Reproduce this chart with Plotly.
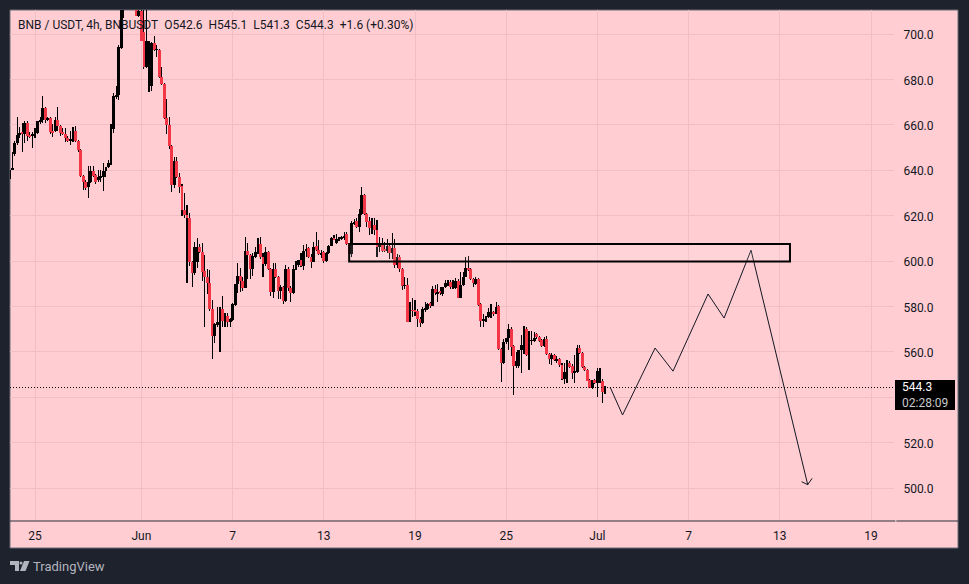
import pandas as pd
import plotly.graph_objects as go

# BNB/USDT 4h candles, oldest first; the last one closes at 544.3
opens = [636,640,647,652,655.5,657,656,661,655.5,655,656,656.5,661.5,662,667.5,662,663,657.2,657.5,662,659.5,656.5,656,654,653.3,653.5,657.5,653,649,637.6,635,632.5,635,639.5,638,635.5,637,637,639.5,641.5,643,658,672.5,673,694,712,
         716,720,717,721,715,708,710,701,685.5,677,677,696,693,693,681,678,663,660,650.5,633.5,644,637,
         633,622.5,620.5,618.8,599.7,594.6,599.5,606,604,595.5,593,590.2,578.7,567,572,573,578.7,573.6,575.7,573.3,574,580.6,589.9,593.4,591.3,588.2,604.4,602.6,596.3,602,603.8,607.5,601.6,598.7,604,596.7,586.5,596.7,593,587,588.4,582.5,596.7,588.2,586,596.5,598.2,600.4,598,604.4,605.9,601.9,599.7,606.5,605,603,604,600,603.4,606.7,610.3,608,609.7,610,610.2,612,607.5,602.9,616.6,617.7,
         615,620.6,629.1,620.6,617.6,614.9,615.8,613.9,606.3,607.5,604.9,604.6,606.6,603.7,605.6,598.2,601.9,596.3,589.1,589.4,573.3,578.4,578.2,578.2,574.7,572.8,578.7,579,581.4,580.3,587.5,585.8,587,585.3,588.4,590.2,590.9,588,588,591.4,583.9,589.4,593,596.8,596.3,591.9,590,592,581,573.7,574.7,575.5,577.5,577.7,576.7,580,
         561.2,555.2,564.4,566,570.3,562.5,554,554,560.8,560,570.3,558.6,565,565,567.8,566.4,565.1,562.7,565.6,558.9,556.8,558.6,556.4,557,554.4,548,550.5,554.9,553.7,550.9,551.2,561.5,559.3,553.4,552.2,547.5,544.2,547.5,546.4,547,547.3,542.6]
highs = [640,648,653,663.5,659,661,661.5,661.5,657,657,658.5,661.5,663.5,672.5,668,663.5,663.5,660.5,663.5,668,660,658.5,658.5,655,657.5,659,659.5,653.5,649.5,638,635.5,642,642,642,638.5,640,640,643,641.5,644.5,660.5,674,677,695,720,722,
         725,728,724,726,718,712,712,711,712,697,696.5,699,695,693.5,685.5,678.5,671.5,663.5,651,646,646,639,
         634,629.8,624.7,621,600,608.5,610,607.5,608,602.6,596.3,596,582.8,572.8,579.6,579.6,584.6,577,577,575,581.6,590,599,596.8,593,610.4,608,603,603.6,606.3,610,610.4,603.7,606.3,604.5,597,599,599,593.5,589.4,589,598.2,597.2,589,598.2,600,600.4,603.5,607.3,607.5,606.3,603,608.5,613,609.5,605,604.5,604,607,610.7,611.5,612,610.5,611,612.6,612.6,608,617.8,618.5,618.8,
         622.9,632.5,629.5,621,619.5,618.8,619,618,610.7,610,608.5,609.6,607,612.2,609.6,603,602.5,597,592.8,592.4,582,583.6,582.8,579,575.5,579.6,582,581.7,582,589,589.4,590,588.5,588.4,591.6,591.6,591.5,591.6,592.4,592,595.3,595.3,602,602.2,596.8,592.5,593,592.5,581.5,576.7,576,579.2,581.3,578.2,582,580.5,
         561.5,565.5,566,572.5,571,563,560,560.8,567.4,571.2,571,569.3,569,568.8,568.5,567,565.5,566.6,567,559.5,559.3,559,558,557.5,555,554.9,556.5,556,554.5,558.6,563,563,559.8,554,552.5,548,547.8,548,553.1,553,548,545.1]
lows = [635.5,640,646.5,651,654,648,652,653,654,650,654,656,660.5,661,661,661.5,656,654.5,657,657.5,655,655.5,652.5,652.5,651,652.5,652.5,648,637,631.5,631.5,628,634.5,637,634,635,635,631,637,641,642.5,656.5,671.5,671,693.5,707,
        711.5,713,712,714,708,707.5,697,684.5,685,674.5,675,692.5,690,680.5,677.5,662.5,656,649.5,630.5,632,636.5,630,
        620,618.8,590.4,598,588.4,593.8,597,603.5,591.3,570.8,585.7,578,556.7,563.7,570.8,560,571,571,571,571,573.7,580.3,586,586.5,587,588,592,592,593.5,601.5,603,601,593,598,596,584.6,583.8,592.5,583.5,583.5,581,582,587,582,585.5,596,597.5,597.5,596,602,601.5,596.8,599.5,604.5,602.5,601.5,599,599.7,603,606.5,609.5,607.5,609,609.5,609.5,607,602,602,616,614.5,
        613,620.5,620.3,615,611.5,612,611.5,601.6,604,604,604,603.4,601,600.7,597,597,595.3,587.2,587.8,573,573,575.5,576,571,570.8,572.5,577.5,578.5,579.5,580,585,582,585,584.4,588,589,587.5,587.5,587.5,583.9,583.7,589,593,595.5,591.5,588.5,589.5,580,571,571,573,575,575,576,576.5,561,
        546.8,554.5,563.5,560.8,558,541,553,553,550.8,559,558,552,563,564.5,565.5,564.5,562,562,558.5,554.6,554.2,556,555,553.5,547.5,546,546.5,553,548,546.5,550.5,559,553,551.5,547,544,543.5,546,540.2,546.5,537.6,541.3]
closes = [640,641,652,655.5,656.5,656,661,655,655,656,656.5,661.5,662,667.5,662,663,657,656.8,662,659.5,656.5,656,654,653.3,653.8,657.5,653,649,637.6,635,632,635,639.5,637.5,635,637,637.4,639.5,641.5,643,660.5,672.5,673,694.5,712,716,
          720,717,721,718,708,710,697,685.5,697,696,696,693,693.3,681,678,663,660,650.5,633.5,644,637,632.5,
          622.5,620.2,618.8,599.7,594.8,606,606,604,595.3,593,590.2,578.7,567,572.2,573,578.7,573.6,575.7,573.3,574.4,581,589.9,593.4,591.3,588.2,604.4,602.6,596.3,602.2,603.8,607.5,601.6,598.7,604,596.7,586.5,596.7,593,587,588.4,582.5,596.7,588.2,586,596.5,598.2,600.4,598,604.4,605.5,601.9,599.7,606.3,605.1,603,603.5,600,603.4,606.7,610.3,609.5,609.7,610,610.2,610.7,607.5,602.9,616.6,617.2,615,
          620.6,629.1,620.6,617.3,614.7,615.5,613.7,606.3,607.5,604.6,604.6,606.6,603.7,605.6,598.2,601.9,596.3,589.1,589.4,573.3,579.9,578.1,578,574.5,572.8,578.7,579.2,581,580.4,587.5,585.8,586.5,585.8,588.4,590.2,590.9,588.4,588.6,591.4,583.9,589.4,593,596.8,596.1,591.9,590.2,592,580.6,573.7,574.7,575.5,577.7,577.8,576.7,579.9,561.2,
          555.2,564.4,565.9,570.3,562.2,553.9,556,560.8,563,570.3,558.6,565.2,565.2,566,566.4,565,562.7,565.5,558.9,556.8,558.6,556.4,557,554.2,548,551,551.5,553.4,550.9,551.5,561.5,559.3,553.4,552,547.3,544.2,547.5,546.4,551.5,551.5,542.4,544.3]

candle_times = pd.date_range(end="2024-07-01 12:00", periods=len(closes), freq="4h")

# Hand-drawn forecast path and its arrow head
forecast_times = ["2024-07-01 20:00", "2024-07-02 15:40", "2024-07-04 19:00", "2024-07-05 23:20",
                  "2024-07-08 06:40", "2024-07-09 08:00", "2024-07-11 02:30", "2024-07-14 20:00"]
forecast_prices = [544.5, 532.2, 561.7, 551.5, 585.5, 574.9, 604.8, 501.5]
arrow_times = ["2024-07-14 10:30", "2024-07-14 20:00", "2024-07-15 03:00"]
arrow_prices = [502.8, 501.5, 504.3]

# Resistance zone
zone_times = ["2024-06-14 16:00", "2024-07-13 16:00"]
zone_prices = [599.8, 607.5]

price_ticks = [500, 520, 540, 560, 580, 600, 620, 640, 660, 680, 700]
date_ticks = ["2024-05-25", "2024-06-01", "2024-06-07", "2024-06-13", "2024-06-19", "2024-06-25",
              "2024-07-01", "2024-07-07", "2024-07-13", "2024-07-19"]
date_labels = ["25", "Jun", "7", "13", "19", "25", "Jul", "7", "13", "19"]

last_price = closes[-1]
header = "BNB / USDT, 4h, BNBUSDT\u00a0\u00a0O542.6\u00a0\u00a0H545.1\u00a0\u00a0L541.3\u00a0\u00a0C544.3\u00a0\u00a0+1.6 (+0.30%)"

FONT = "Roboto"
PINK = "#FFCDD2"
DARK = "#1E222D"
RED = "#F23645"
INK = "#131722"
GRID = "#F0BFC5"
W, H = 969, 584
L, R, T, B = 10, 894, 10, 521
CANDLE_MS = 4 * 3600 * 1000


def px(x):
    return (x - L) / (R - L)


def py(y):
    return (B - y) / (B - T)


up = [c >= o for o, c in zip(opens, closes)]
body_base = [min(o, c) for o, c in zip(opens, closes)]
body_size = [abs(c - o) for o, c in zip(opens, closes)]
body_colors = ["#000000" if u else RED for u in up]

fig = go.Figure()
# Wicks: a very narrow span so each one lands on a single pixel column
fig.add_bar(x=candle_times, base=lows, y=[h - l for h, l in zip(highs, lows)],
            width=CANDLE_MS * 0.04, marker=dict(color="#000000", line_width=0), hoverinfo="skip")
fig.add_bar(x=candle_times, base=body_base, y=body_size,
            width=CANDLE_MS * 1.15, marker=dict(color=body_colors, line_width=0),
            customdata=list(zip(opens, highs, lows, closes)),
            hovertemplate="O%{customdata[0]} H%{customdata[1]} L%{customdata[2]} C%{customdata[3]}<extra></extra>")
fig.add_scatter(x=forecast_times, y=forecast_prices, mode="lines",
                line=dict(color="#131722", width=1), hoverinfo="skip")
fig.add_scatter(x=arrow_times, y=arrow_prices, mode="lines",
                line=dict(color="#131722", width=1), hoverinfo="skip")

shapes = [
    # Chart card behind the plot and both axes
    dict(type="rect", xref="paper", yref="paper", x0=px(L), x1=px(958), y0=py(548), y1=py(T),
         fillcolor=PINK, line=dict(color="#6A6D78", width=1), layer="below"),
    # Time-axis rule
    dict(type="line", xref="paper", yref="paper", x0=px(L), x1=px(958), y0=0, y1=0,
         line=dict(color="#2A2E39", width=1), layer="above"),
    dict(type="line", xref="paper", yref="paper", x0=px(895), x1=px(896.5), y0=0, y1=0,
         line=dict(color="#FFFFFF", width=1), layer="above"),
    # Last price line
    dict(type="line", xref="paper", yref="y", x0=0, x1=1, y0=last_price, y1=last_price,
         line=dict(color="#000000", width=1, dash="1px,2px"), layer="above"),
    # Resistance zone
    dict(type="rect", xref="x", yref="y", x0=zone_times[0], x1=zone_times[1], y0=zone_prices[0], y1=zone_prices[1],
         fillcolor="rgba(255,255,255,0.12)", line=dict(color="#000000", width=2), layer="above"),
    # Last price tag
    dict(type="rect", xref="paper", yref="paper", x0=px(895), x1=px(955), y0=py(410), y1=py(380),
         fillcolor="#000000", line_width=0, layer="above"),
    # TradingView mark
    dict(type="path", xref="paper", yref="paper", layer="above", line_width=0, fillcolor="#B2B5BE",
         path=f"M{px(10)},{py(561)} L{px(19)},{py(561)} L{px(19)},{py(571)} L{px(15)},{py(571)} "
              f"L{px(15)},{py(565)} L{px(10)},{py(565)} Z"),
    dict(type="circle", xref="paper", yref="paper", layer="above", line_width=0, fillcolor="#B2B5BE",
         x0=px(19.5), x1=px(22.5), y0=py(564.5), y1=py(561.5)),
    dict(type="path", xref="paper", yref="paper", layer="above", line_width=0, fillcolor="#B2B5BE",
         path=f"M{px(24)},{py(561)} L{px(29.5)},{py(561)} L{px(25.5)},{py(571)} L{px(20)},{py(571)} Z"),
]

tag_text = f"{last_price:.1f}<br><span style='color:#C8C8C8'>02:28:09</span>"

annotations = [
    dict(text=header, xref="paper", yref="paper", x=px(16), y=py(25), xanchor="left", yanchor="middle",
         showarrow=False, font=dict(family=FONT, size=12, color=INK)),
    dict(text=tag_text, xref="paper", yref="paper", x=px(900), y=py(395), xanchor="left", yanchor="middle",
         align="left", showarrow=False, font=dict(family=FONT, size=12, color="#FFFFFF")),
    dict(text="TradingView", xref="paper", yref="paper", x=px(31), y=py(566), xanchor="left", yanchor="middle",
         showarrow=False, font=dict(family=FONT, size=13, color="#B2B5BE")),
]

fig.update_layout(
    width=W, height=H, autosize=False,
    margin=dict(l=L, r=W - R, t=T, b=H - B, pad=0),
    paper_bgcolor=DARK, plot_bgcolor=PINK,
    showlegend=False, barmode="overlay", bargap=0,
    shapes=shapes, annotations=annotations,
    font=dict(family=FONT, size=12, color=INK),
    xaxis=dict(type="date", range=["2024-05-23 08:30", "2024-07-20 12:15"],
               tickmode="array", tickvals=date_ticks, ticktext=date_labels,
               showgrid=True, gridcolor=GRID, gridwidth=1, zeroline=False, showline=False,
               ticks="outside", ticklen=4, tickcolor="rgba(0,0,0,0)", tickangle=0),
    yaxis=dict(side="right", range=[485.5, 710.6], tickmode="array", tickvals=price_ticks,
               ticktext=[f"{v:.1f}" for v in price_ticks],
               showgrid=True, gridcolor=GRID, gridwidth=1, zeroline=False, showline=False,
               ticks="outside", ticklen=6, tickcolor="rgba(0,0,0,0)", ticklabelshift=1),
)

fig.write_html("out.html", config=dict(displayModeBar=False))
